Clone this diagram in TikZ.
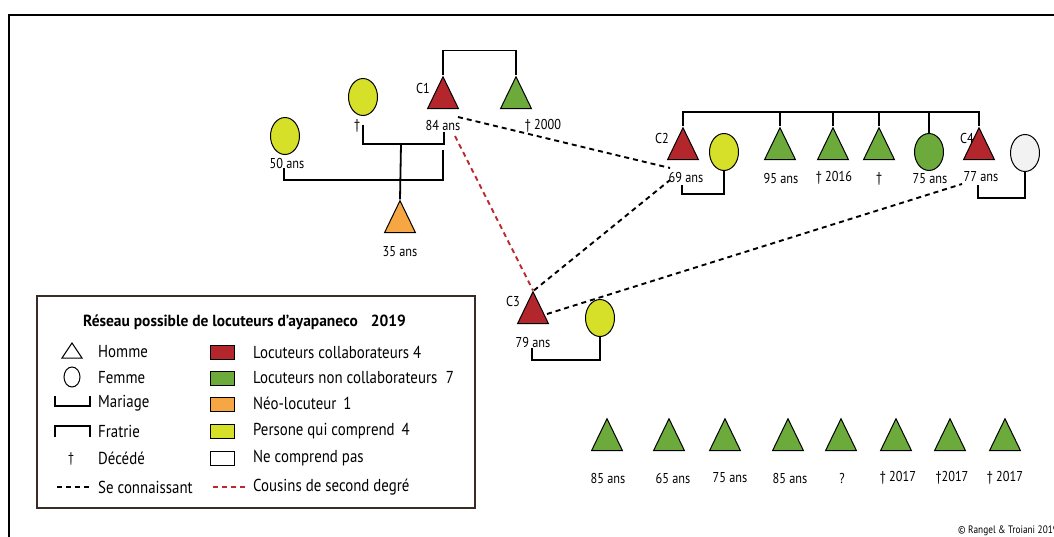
\documentclass[tikz,border=0pt]{standalone}
\usepackage{fontspec}
\setmainfont{PT Sans}[FakeStretch=0.86]
\newfontfamily\titlefont{PT Sans}[FakeStretch=0.96]
\usetikzlibrary{shapes.geometric}
\definecolor{cred}{RGB}{178,38,44}
\definecolor{cgreen}{RGB}{108,170,60}
\definecolor{corange}{RGB}{246,166,66}
\definecolor{cyellow}{RGB}{214,224,40}
\definecolor{cwhite}{RGB}{242,242,242}
\definecolor{cdashred}{RGB}{190,40,45}
\definecolor{cframe}{RGB}{58,44,36}
\begin{document}
\begin{tikzpicture}[x=1pt,y=-1pt,
  tri/.style={isosceles triangle, shape border rotate=90, isosceles triangle stretches,
    minimum width=31pt, minimum height=32pt, inner sep=0pt, draw=black, line width=1pt},
  fem/.style={ellipse, minimum width=29pt, minimum height=37pt, inner sep=0pt, draw=black, line width=1pt},
  lab/.style={inner sep=0pt, font=\fontsize{14.3}{15}\selectfont},
  leg/.style={inner sep=0pt, anchor=west, font=\fontsize{17.3}{18}\selectfont},
  kin/.style={line width=1.8pt, black},
  know/.style={line width=1.9pt, black, dash pattern=on 5pt off 4pt},
  cous/.style={line width=1.9pt, cdashred, dash pattern=on 5pt off 4pt},
  sq/.style={draw=black, line width=0.9pt, minimum width=24pt, minimum height=14pt, inner sep=0pt}]
\useasboundingbox (0,0) rectangle (1054,536);
% outer frame
\draw[line width=2pt] (9,537) -- (9,15) -- (1055,15);

% ---------- family C1 ----------
\node[tri, fill=cred] (c1) at (443,99) {};
\node[tri, fill=cgreen] (g2000) at (516,99) {};
\node[lab] (c1name) at (423,88) {C1};
\node[lab] (c1lab) at (443,125) {84 ans};
\node[lab] (g2000lab) at (543,126) {† 2000};
\draw[kin] (c1.apex) -- ++(0,-25) -| (g2000.apex);

\node[fem, fill=cyellow] (w1) at (363,97) {};
\node[lab] (w1lab) at (357,126) {†};
\node[fem, fill=cyellow] (w50) at (285,136) {};
\node[lab] (w50lab) at (287,163) {50 ans};
\node[tri, fill=corange] (n35) at (400,223) {};
\node[lab] (n35lab) at (400,252) {35 ans};

\coordinate (m1a) at (363,125);
\coordinate (m1b) at (444,132);
\coordinate (m1c) at (401,144);
\draw[kin] (m1a) |- (m1b |- m1c) -- (m1b);
\draw[kin] (m1c) -- (n35.apex);
\coordinate (m2a) at (284,168);
\coordinate (m2b) at (443,150);
\draw[kin] (m2a) |- (443,180) -- (m2b);

% ---------- family C2 / C4 ----------
\node[tri, fill=cred] (c2) at (683,150) {};
\node[lab] (c2name) at (662,138) {C2};
\node[lab] (c2lab) at (686,177) {69 ans};
\node[fem, fill=cyellow] (w2) at (724,152) {};
\node[tri, fill=cgreen] (s95) at (780,150) {};
\node[lab] (s95lab) at (781,178) {95 ans};
\node[tri, fill=cgreen] (s2016) at (833,150) {};
\node[lab] (s2016lab) at (834,178) {† 2016};
\node[tri, fill=cgreen] (sdec) at (879,150) {};
\node[lab] (sdeclab) at (879,179) {†};
\node[fem, fill=cgreen] (s75) at (929,152) {};
\node[lab] (s75lab) at (930,179) {75 ans};
\node[tri, fill=cred] (c4) at (979,150) {};
\node[lab] (c4name) at (967,138) {C4};
\node[lab] (c4lab) at (981,177) {77 ans};
\node[fem, fill=cwhite] (w4) at (1025,153) {};

\draw[kin] (c2.apex) -- (683,112) -| (c4.apex);
\foreach \n in {s95,s2016,sdec,s75} \draw[kin] (\n.north) -- (\n.north |- 0,112);
\coordinate (m3a) at (682,185);
\draw[kin] (m3a) |- (724,194) -- (w2.south);
\coordinate (m4a) at (978,185);
\draw[kin] (m4a) |- (1025,198) -- (w4.south);

% ---------- C3 ----------
\node[tri, fill=cred] (c3) at (533,314) {};
\node[lab] (c3name) at (513,301) {C3};
\node[lab] (c3lab) at (533,342) {79 ans};
\node[fem, fill=cyellow] (w3) at (600,318) {};
\coordinate (m5a) at (532,348);
\draw[kin] (m5a) |- (600,360) -- (w3.south);

% ---------- connections ----------
\coordinate (k1) at (458,117);
\coordinate (k2) at (670,168);
\draw[know] (k1) -- (k2);
\coordinate (r1) at (455,136);
\draw[cous] (r1) -- (c3.apex);
\draw[know] ([xshift=1pt]c3.apex) -- (670,180);
\coordinate (k4) at (962,184);
\draw[know] (547,314) -- (k4);

% ---------- unattached men ----------
\foreach \x/\t/\lx [count=\i] in {607/85 ans/608, 669/65 ans/673, 725/75 ans/730, 788/85 ans/790, 841/?/842, 896/† 2017/898, 950/†2017/952, 1005/† 2017/1005} {
  \node[tri, fill=cgreen] (u\i) at (\x,441) {};
  \node[lab] (u\i lab) at (\lx,478) {\t};
}

\node[inner sep=0pt, anchor=west, font=\fontsize{10.8}{11}\selectfont] (copy) at (958,531) {© Rangel \& Troiani 2019};

% ---------- legend ----------
\draw[cframe, line width=2pt] (37,296) rectangle (475,508);
\node[inner sep=0pt, anchor=west, font=\titlefont\fontsize{16.1}{17}\selectfont\bfseries] (title) at (83,322) {Réseau possible de locuteurs d’ayapaneco\hspace{0.8em}2019};

\draw[line width=1pt] (62,358) -- (72,343) -- (82,358) -- cycle;
\draw[line width=1pt] (72,377) ellipse [x radius=8, y radius=10];
\draw[line width=1.6pt] (55,396) -- (55,406) -- (90,406) -- (90,396);
\draw[line width=1.6pt] (55,437) -- (55,426) -- (90,426) -- (90,437);
\node[lab, font=\fontsize{14}{14}\selectfont] (ldag) at (71,459) {†};
\draw[know] (57,487) -- (91,487);

\node[leg] (l1) at (98,352) {Homme};
\node[leg] (l2) at (98,378) {Femme};
\node[leg] (l3) at (98,403) {Mariage};
\node[leg] (l4) at (98,431) {Fratrie};
\node[leg] (l5) at (98,458) {Décédé};
\node[leg] (l6) at (98,487) {Se connaissant};

\node[sq, fill=cred] (q1) at (222,352) {};
\node[sq, fill=cgreen] (q2) at (222,378) {};
\node[sq, fill=corange] (q3) at (222,404) {};
\node[sq, fill=cyellow] (q4) at (222,431) {};
\node[sq, fill=white] (q5) at (222,458) {};
\draw[cous] (213,487) -- (246,487);

\node[leg] (r1t) at (253,352) {Locuteurs collaborateurs 4};
\node[leg] (r2t) at (253,378) {Locuteurs non collaborateurs\hspace{0.5em}7};
\node[leg] (r3t) at (253,403) {Néo-locuteur\hspace{0.4em}1};
\node[leg] (r4t) at (253,431) {Persone qui comprend\hspace{0.4em}4};
\node[leg] (r5t) at (253,458) {Ne comprend pas};
\node[leg] (r6t) at (253,487) {Cousins de second degré};
\end{tikzpicture}
\end{document}
